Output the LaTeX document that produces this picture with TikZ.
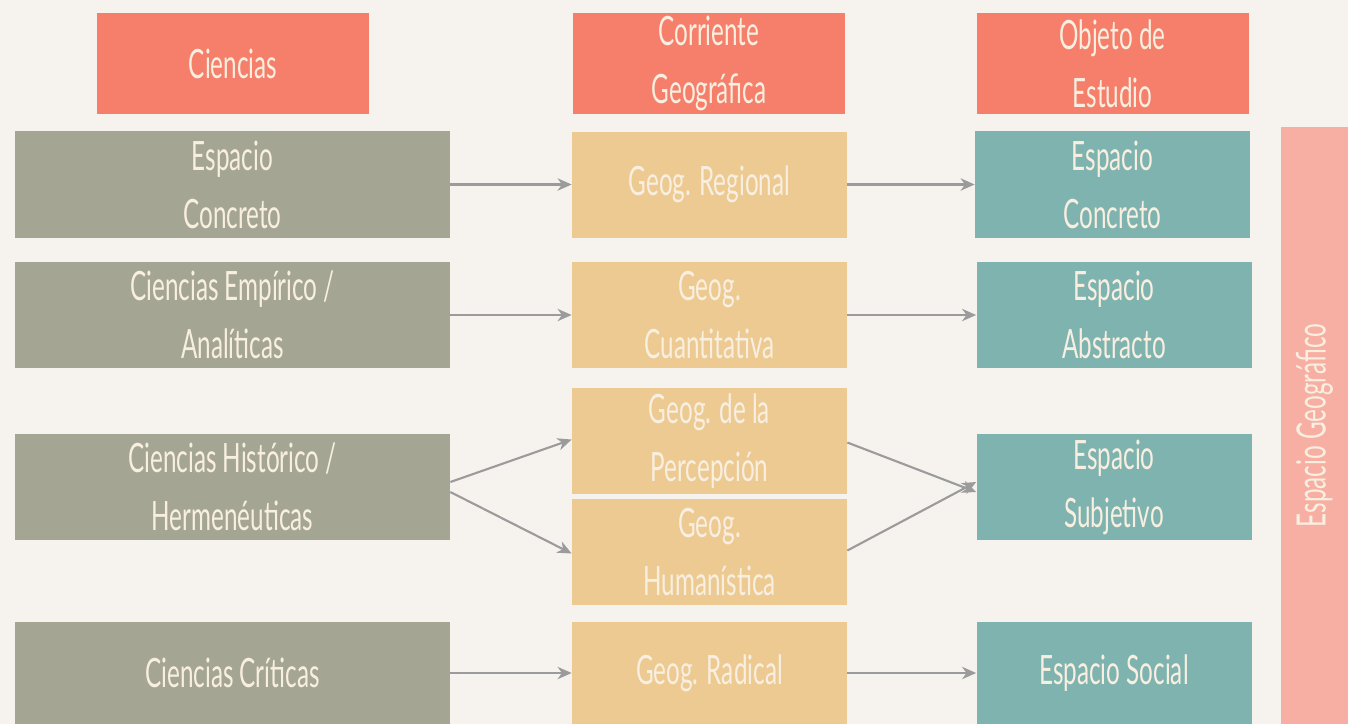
\documentclass[tikz,border=0pt]{standalone}
\usepackage{fontspec}
\setmainfont[FakeStretch=0.6]{Lato}
\usepackage{tikz}
\usetikzlibrary{arrows.meta, positioning}
\definecolor{paper}{HTML}{F6F3EF}
\definecolor{headRed}{HTML}{F57F6B}
\definecolor{sciGray}{HTML}{A4A592}
\definecolor{geoSand}{HTML}{EDCA92}
\definecolor{objTeal}{HTML}{7FB3AF}
\definecolor{barPink}{HTML}{F6AFA2}
\definecolor{cream}{HTML}{F8EFE0}
\definecolor{arrowGray}{HTML}{9B9B9B}

\begin{document}
\begin{tikzpicture}
  \tikzset{
    box/.style = {rectangle, inner sep = 0pt, align = center, text = cream,
      font = \fontsize{23}{33}\selectfont},
    headbox/.style = {box, fill = headRed, minimum width = 5.44cm, minimum height = 2.02cm},
    scibox/.style = {box, fill = sciGray, minimum width = 8.7cm, minimum height = 2.13cm},
    geobox/.style = {box, fill = geoSand, minimum width = 5.5cm, minimum height = 2.12cm},
    objbox/.style = {box, fill = objTeal, minimum width = 5.5cm, minimum height = 2.13cm},
    link/.style = {draw = arrowGray, line width = 1.2pt,
      -{Stealth[length = 8pt, width = 7pt, inset = 2.5pt]}}
  }

  % ----------
  % background
  % ----------

  \fill[paper] (0, 0) rectangle (26.96, -14.48);
  \useasboundingbox (0, 0) rectangle (26.96, -14.48);

  % column heads
  \node[headbox] (H1) at (4.66, -1.27) {Ciencias};
  \node[headbox] (H2) at (14.18, -1.27) {Corriente\\Geográfica};
  \node[headbox] (H3) at (22.25, -1.27) {Objeto de\\Estudio};

  % sciences
  \node[scibox] (A1) at (4.65, -3.69) {Espacio\\Concreto};
  \node[scibox] (A2) at (4.65, -6.30) {Ciencias Empírico /\\Analíticas};
  \node[scibox] (A3) at (4.65, -9.74) {Ciencias Histórico /\\Hermenéuticas};
  \node[scibox, minimum height = 2.04cm] (A4) at (4.65, -13.46) {Ciencias Críticas};

  % geographical currents
  \node[geobox] (B1) at (14.19, -3.69) {Geog. Regional};
  \node[geobox] (B2) at (14.19, -6.30) {Geog.\\Cuantitativa};
  \node[geobox] (B3) at (14.19, -8.82) {Geog. de la\\Percepción};
  \node[geobox] (B4) at (14.19, -11.04) {Geog.\\Humanística};
  \node[geobox, minimum height = 2.04cm] (B5) at (14.19, -13.46) {Geog. Radical};

  % objects of study
  \node[objbox] (C1) at (22.25, -3.69) {Espacio\\Concreto};
  \node[objbox] (C2) at (22.28, -6.30) {Espacio\\Abstracto};
  \node[objbox] (C3) at (22.28, -9.74) {Espacio\\Subjetivo};
  \node[objbox, minimum height = 2.04cm] (C4) at (22.28, -13.46) {Espacio Social};

  % side bar
  \node[box, fill = barPink, rotate = 90, minimum width = 11.94cm,
    minimum height = 1.34cm] (E) at (26.29, -8.51) {Espacio Geográfico};

  % ------
  % arrows
  % ------

  \foreach \from/\to in {A1/B1, A2/B2, A4/B5, B1/C1, B2/C2, B5/C4} {
    \draw[link] (\from.east) to (\to.west);
  }

  \draw[link] ([yshift = 0.1cm]A3.east) to ([yshift = 0.03cm]B3.west);
  \draw[link] ([yshift = -0.1cm]A3.east) to ([yshift = -0.03cm]B4.west);
  \draw[link] ([yshift = -0.03cm]B3.east) to ([yshift = -0.1cm]C3.west);
  \draw[link] ([yshift = 0.03cm]B4.east) to ([yshift = 0.1cm]C3.west);
\end{tikzpicture}
\end{document}
